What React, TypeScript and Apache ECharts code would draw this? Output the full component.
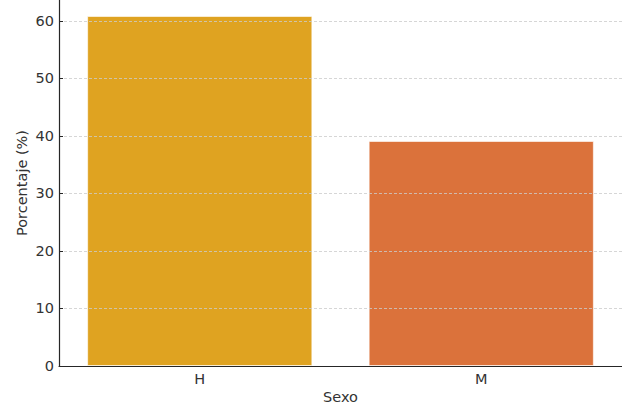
import React, { useEffect, useRef } from "react";
import * as echarts from "echarts";

const categories = ["H", "M"];
const values = [60.87, 39.13];
const barColors = ["#DFA321", "#DB723B"];
const yMax = 63.65;

export default function App() {
  const ref = useRef<HTMLDivElement>(null);
  useEffect(() => {
    const chart = echarts.init(ref.current!, null, { renderer: "svg" });
    const font = "DejaVu Sans";
    const fs = 14.5;
    const txt = "#333333";
    chart.setOption({
      animation: false,
      textStyle: { fontFamily: font },
      grid: { left: 59, right: 0, top: 0, bottom: 38, outerBoundsMode: "none", containLabel: false },
      xAxis: {
        type: "category",
        data: categories,
        z: 6,
        name: "Sexo",
        nameLocation: "middle",
        nameMoveOverlap: false,
        nameGap: 23,
        nameTextStyle: { fontFamily: font, fontSize: fs, color: txt, lineHeight: 15 },
        axisLine: { lineStyle: { color: "#262626", width: 1.2 } },
        axisTick: { alignWithLabel: true, inside: true, length: 4, lineStyle: { color: "#262626" } },
        axisLabel: { fontFamily: font, fontSize: fs, color: txt, margin: 5 },
      },
      yAxis: {
        type: "value",
        min: 0,
        max: yMax,
        interval: 10,
        z: 5,
        name: "Porcentaje (%)",
        nameLocation: "middle",
        nameMoveOverlap: false,
        nameGap: 30,
        nameTextStyle: { fontFamily: font, fontSize: fs, color: txt },
        axisLine: { show: true, lineStyle: { color: "#262626", width: 1.2 } },
        axisTick: { show: true, inside: true, length: 4, lineStyle: { color: "#262626" } },
        axisLabel: { fontFamily: font, fontSize: fs, color: txt, margin: 5, showMaxLabel: false },
        splitLine: { show: true, showMinLine: false, showMaxLine: false, lineStyle: { color: "#cccccc", type: [3, 2], width: 0.8 } },
      },
      series: [
        {
          type: "bar",
          barWidth: "80%",
          data: values.map((v, i) => ({ value: v, itemStyle: { color: barColors[i] } })),
          itemStyle: { borderColor: "rgba(255,255,255,0.6)", borderWidth: 1 },
        },
      ],
    });
    return () => chart.dispose();
  }, []);
  return <div ref={ref} style={{ width: 622, height: 404, position: "absolute", left: 0, top: 0 }} />;
}
